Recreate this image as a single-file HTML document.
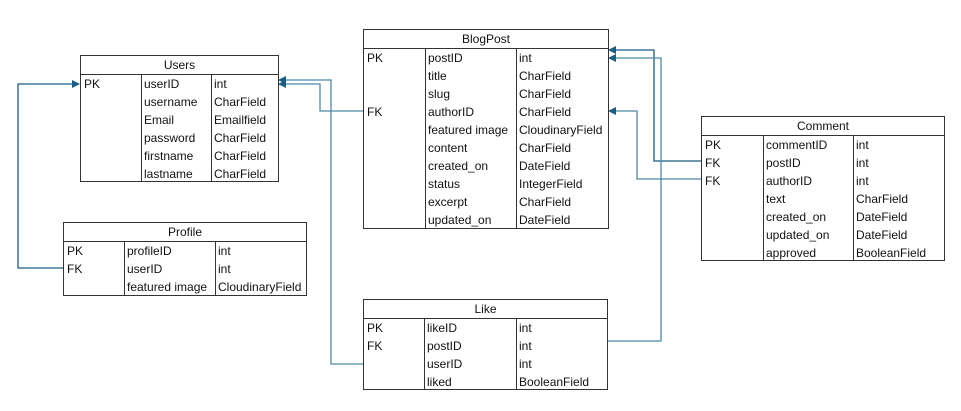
<!DOCTYPE html>
<html><head><meta charset="utf-8"><style>
body{margin:0;background:#fff;width:961px;height:411px;position:relative;overflow:hidden;font-family:"Liberation Sans",sans-serif;font-size:12px;color:#111}
.t{position:absolute;border:1px solid #333;box-sizing:border-box;background:#fff}
.h{height:18px;line-height:18px;text-align:center;border-bottom:1px solid #333}
.r{display:flex;height:18px;line-height:18px}
.r div{padding-left:3px;box-sizing:border-box;white-space:nowrap;overflow:hidden}
.c{position:absolute;top:18px;bottom:0;border-left:1px solid #333}
svg{position:absolute;left:0;top:0}
</style></head><body>
<svg width="961" height="411">
<defs><marker id="a" markerWidth="8" markerHeight="8" refX="7" refY="4" orient="auto" markerUnits="userSpaceOnUse"><path d="M0,0L8,4L0,8z" fill="#1b5e82"/></marker></defs>
<g fill="none" stroke="#1b5e82" stroke-width="1.3">
<polyline points="63,268 18,268 18,84 79,84" marker-end="url(#a)"/>
<polyline points="363,111 320,111 320,84 279,84" marker-end="url(#a)" stroke="#4d88a6"/>
<polyline points="363,364 331,364 331,80 279,80" marker-end="url(#a)" stroke="#4d88a6"/>
<polyline points="701,161 654,161 654,50 609,50" marker-end="url(#a)"/>
<polyline points="607,341 661,341 661,58 609,58" marker-end="url(#a)" stroke="#4d88a6"/>
<polyline points="701,179 637,179 637,111 609,111" marker-end="url(#a)" stroke="#4d88a6"/>
</g></svg>

<div class="t" style="left:80px;top:55px;width:199px;height:127px">
<div class="h">Users</div><div class="c" style="left:60px"></div><div class="c" style="left:130px"></div>
<div class="r"><div style="width:60px">PK</div><div style="width:70px">userID</div><div>int</div></div>
<div class="r"><div style="width:60px"></div><div style="width:70px">username</div><div>CharField</div></div>
<div class="r"><div style="width:60px"></div><div style="width:70px">Email</div><div>Emailfield</div></div>
<div class="r"><div style="width:60px"></div><div style="width:70px">password</div><div>CharField</div></div>
<div class="r"><div style="width:60px"></div><div style="width:70px">firstname</div><div>CharField</div></div>
<div class="r"><div style="width:60px"></div><div style="width:70px">lastname</div><div>CharField</div></div>
</div>

<div class="t" style="left:63px;top:222px;width:244px;height:74px">
<div class="h">Profile</div><div class="c" style="left:60px"></div><div class="c" style="left:151px"></div>
<div class="r"><div style="width:60px">PK</div><div style="width:91px">profileID</div><div>int</div></div>
<div class="r"><div style="width:60px">FK</div><div style="width:91px">userID</div><div>int</div></div>
<div class="r"><div style="width:60px"></div><div style="width:91px">featured image</div><div>CloudinaryField</div></div>
</div>

<div class="t" style="left:363px;top:29px;width:246px;height:200px">
<div class="h">BlogPost</div><div class="c" style="left:61px"></div><div class="c" style="left:152px"></div>
<div class="r"><div style="width:61px">PK</div><div style="width:91px">postID</div><div>int</div></div>
<div class="r"><div style="width:61px"></div><div style="width:91px">title</div><div>CharField</div></div>
<div class="r"><div style="width:61px"></div><div style="width:91px">slug</div><div>CharField</div></div>
<div class="r"><div style="width:61px">FK</div><div style="width:91px">authorID</div><div>CharField</div></div>
<div class="r"><div style="width:61px"></div><div style="width:91px">featured image</div><div>CloudinaryField</div></div>
<div class="r"><div style="width:61px"></div><div style="width:91px">content</div><div>CharField</div></div>
<div class="r"><div style="width:61px"></div><div style="width:91px">created_on</div><div>DateField</div></div>
<div class="r"><div style="width:61px"></div><div style="width:91px">status</div><div>IntegerField</div></div>
<div class="r"><div style="width:61px"></div><div style="width:91px">excerpt</div><div>CharField</div></div>
<div class="r"><div style="width:61px"></div><div style="width:91px">updated_on</div><div>DateField</div></div>
</div>

<div class="t" style="left:701px;top:116px;width:244px;height:145px">
<div class="h">Comment</div><div class="c" style="left:61px"></div><div class="c" style="left:151px"></div>
<div class="r"><div style="width:61px">PK</div><div style="width:90px">commentID</div><div>int</div></div>
<div class="r"><div style="width:61px">FK</div><div style="width:90px">postID</div><div>int</div></div>
<div class="r"><div style="width:61px">FK</div><div style="width:90px">authorID</div><div>int</div></div>
<div class="r"><div style="width:61px"></div><div style="width:90px">text</div><div>CharField</div></div>
<div class="r"><div style="width:61px"></div><div style="width:90px">created_on</div><div>DateField</div></div>
<div class="r"><div style="width:61px"></div><div style="width:90px">updated_on</div><div>DateField</div></div>
<div class="r"><div style="width:61px"></div><div style="width:90px">approved</div><div>BooleanField</div></div>
</div>

<div class="t" style="left:363px;top:299px;width:245px;height:91px">
<div class="h">Like</div><div class="c" style="left:60px"></div><div class="c" style="left:152px"></div>
<div class="r"><div style="width:60px">PK</div><div style="width:92px">likeID</div><div>int</div></div>
<div class="r"><div style="width:60px">FK</div><div style="width:92px">postID</div><div>int</div></div>
<div class="r"><div style="width:60px"></div><div style="width:92px">userID</div><div>int</div></div>
<div class="r"><div style="width:60px"></div><div style="width:92px">liked</div><div>BooleanField</div></div>
</div>
</body></html>
